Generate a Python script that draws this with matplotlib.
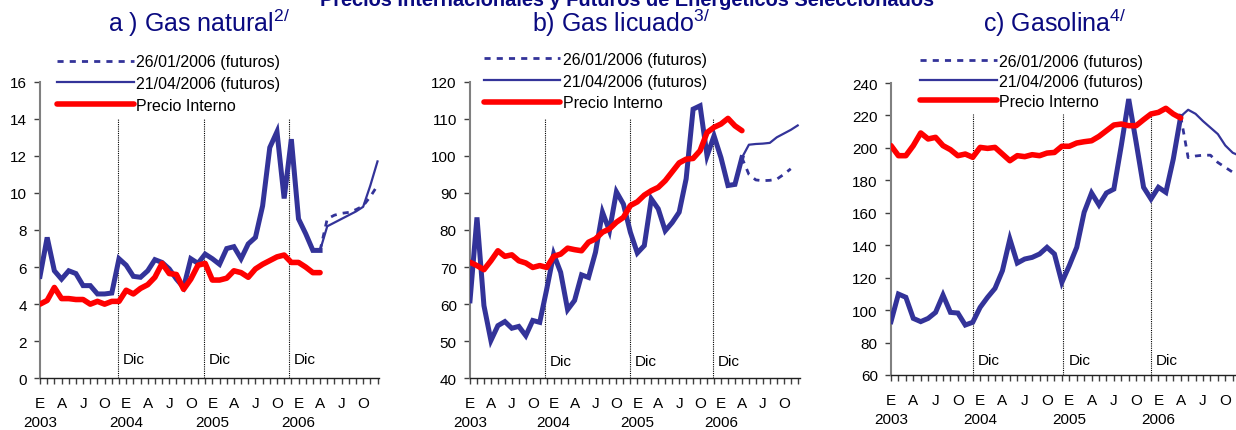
import numpy as np
import matplotlib
matplotlib.use("Agg")
import matplotlib.pyplot as plt

plt.rcParams['font.family'] = ['Liberation Sans', 'DejaVu Sans']
plt.rcParams['mathtext.fontset'] = 'custom'
plt.rcParams['mathtext.rm'] = 'Liberation Sans'
plt.rcParams['mathtext.it'] = 'Liberation Sans:italic'
plt.rcParams['mathtext.bf'] = 'Liberation Sans:bold'

# ---------------- DATA ----------------
months = np.arange(48)          # Jan 2003 .. Dec 2006
hist_months = np.arange(40)     # Jan 2003 .. Apr 2006
fut_months = np.arange(39, 48)  # Apr 2006 .. Dec 2006

month_letters = ['E', 'A', 'J', 'O']
years = ['2003', '2004', '2005', '2006']

legend_labels = ['26/01/2006 (futuros)', '21/04/2006 (futuros)', 'Precio Interno']

# a) Gas natural
gn_spot = [5.5, 7.6, 5.8, 5.35, 5.8, 5.65, 5.0, 5.0, 4.55, 4.55, 4.6, 6.45,
           6.1, 5.5, 5.45, 5.8, 6.4, 6.25, 5.9, 5.35, 4.9, 6.45, 6.2, 6.7,
           6.45, 6.15, 7.0, 7.1, 6.45, 7.25, 7.6, 9.3, 12.45, 13.3, 9.7, 12.9,
           8.6, 7.8, 6.9, 6.9]
gn_int = [4.0, 4.2, 4.9, 4.3, 4.3, 4.25, 4.25, 4.0, 4.15, 4.0, 4.15, 4.15,
          4.75, 4.55, 4.85, 5.05, 5.45, 6.2, 5.65, 5.6, 4.8, 5.35, 6.1, 6.2,
          5.3, 5.3, 5.4, 5.8, 5.7, 5.45, 5.9, 6.15, 6.35, 6.55, 6.65, 6.25,
          6.25, 6.0, 5.7, 5.7]
gn_fut_abr = [6.9, 8.2, 8.4, 8.6, 8.8, 9.0, 9.25, 10.4, 11.7]
gn_fut_ene = [6.9, 8.6, 8.8, 8.9, 8.95, 9.1, 9.3, 9.8, 10.4]

# b) Gas licuado
gl_spot = [60.9, 83.4, 59.6, 50.2, 54.2, 55.3, 53.5, 54.0, 51.5, 55.6, 55.1, 64.0,
           73.5, 68.6, 58.5, 61.0, 67.9, 67.2, 74.0, 84.8, 79.8, 90.3, 87.0, 79.4,
           73.8, 75.8, 88.4, 85.7, 79.8, 82.0, 84.8, 93.8, 112.6, 113.5, 100.0, 105.4,
           99.5, 92.0, 92.3, 99.5]
gl_int = [71.3, 70.4, 69.3, 71.7, 74.4, 72.9, 73.3, 71.7, 71.1, 69.9, 70.4, 69.9,
          72.9, 73.5, 75.1, 74.7, 74.4, 76.7, 77.6, 79.4, 80.3, 82.1, 83.4, 86.6,
          87.6, 89.4, 90.6, 91.5, 93.3, 95.7, 98.1, 99.1, 99.3, 101.4, 106.3, 107.7,
          108.6, 110.1, 108.1, 106.8]
gl_fut_abr = [99.5, 103.0, 103.2, 103.3, 103.5, 105.0, 106.0, 107.0, 108.2]
gl_fut_ene = [99.5, 95.0, 93.5, 93.3, 93.4, 93.7, 95.0, 96.5]

# c) Gasolina
gs_spot = [92.9, 109.9, 107.9, 94.9, 92.9, 94.9, 98.6, 109.3, 98.6, 98.2, 90.8, 92.5,
           101.7, 107.9, 113.4, 124.3, 143.8, 129.0, 131.5, 132.5, 134.6, 138.7, 134.6, 117.1,
           127.4, 138.7, 160.3, 172.2, 164.8, 172.2, 174.6, 201.4, 230.1, 203.4, 175.7, 168.5,
           175.7, 172.6, 193.1, 219.4]
gs_int = [201.4, 195.2, 195.2, 201.4, 209.2, 205.5, 206.5, 201.4, 198.9, 195.2, 196.2, 194.2,
          200.3, 199.7, 200.3, 196.2, 192.1, 195.2, 194.6, 195.8, 195.2, 196.8, 197.2, 201.0,
          201.0, 203.0, 203.8, 204.4, 207.1, 210.6, 214.1, 214.7, 213.7, 213.7, 217.4, 220.9,
          221.9, 224.4, 220.9, 218.4]
gs_fut_abr = [219.4, 223.5, 221.0, 216.5, 212.5, 208.5, 201.5, 197.0, 195.0]
gs_fut_ene = [219.4, 194.0, 195.0, 195.5, 195.5, 191.0, 188.0, 185.0, 183.0]

# ---------------- STYLE ----------------
BLUE = '#333399'
RED = '#FF0000'
NAVY = '#0A0A80'
W, H = 1236, 431

fig = plt.figure(figsize=(W / 100, H / 100), dpi=100)

panels = [
    dict(rect=[40, 51.7, 339.3, 296.6], xlim=(0, 47.25), ylim=(0, 16), step=2,
         spot=gn_spot, inter=gn_int, fabr=gn_fut_abr, fene=gn_fut_ene,
         vlines=[10.8, 22.8, 34.7], vtop=14.0, dic_y=0.8,
         leg=(0.051, 1.092), lsp=0.41,
         title=r'a ) Gas natural$^{\mathrm{2/}}$', tx=108),
    dict(rect=[470, 51.7, 330, 296.6], xlim=(0, 47.33), ylim=(40, 120), step=10,
         spot=gl_spot, inter=gl_int, fabr=gl_fut_abr, fene=gl_fut_ene,
         vlines=[10.7, 22.95, 34.9], vtop=110.0, dic_y=43.5,
         leg=(0.041, 1.10), lsp=0.41,
         title=r'b) Gas licuado$^{\mathrm{3/}}$', tx=532),
    dict(rect=[891, 55, 351, 292], xlim=(0, 47.25), ylim=(60, 240), step=20,
         spot=gs_spot, inter=gs_int, fabr=gs_fut_abr, fene=gs_fut_ene,
         vlines=[11.0, 23.2, 34.95], vtop=221.0, dic_y=67.0,
         leg=(0.083, 1.10), lsp=0.32,
         title=r'c) Gasolina$^{\mathrm{4/}}$', tx=983),
]

xt_labels = []
for i in months:
    if i % 3 == 0:
        lab = month_letters[(i % 12) // 3]
        if i % 12 == 0:
            lab = lab + '\n' + years[i // 12]
        xt_labels.append(lab)
    else:
        xt_labels.append('')

for p in panels:
    l, b, w, h = p['rect']
    ax = fig.add_axes([l / W, b / H, w / W, h / H])
    ax.set_facecolor('none')

    ax.plot(hist_months, p['spot'], color=BLUE, lw=3.6, solid_joinstyle='miter',
            zorder=3)
    l_ene, = ax.plot(fut_months[:len(p['fene'])], p['fene'], color=BLUE, lw=2.0,
                     dashes=(2.2, 2.2), zorder=2)
    l_abr, = ax.plot(fut_months[:len(p['fabr'])], p['fabr'], color=BLUE, lw=1.6,
                     zorder=2)
    l_int, = ax.plot(hist_months, p['inter'], color=RED, lw=4.0,
                     solid_capstyle='round', zorder=4)

    for k, xv in enumerate(p['vlines']):
        ax.plot([xv, xv], [p['ylim'][0], p['vtop']], color='black', lw=0.8,
                linestyle=(0, (1, 1)), zorder=1)
        ax.text(xv + 0.7, p['dic_y'], 'Dic', fontsize=11, ha='left',
                va='baseline', color='black')

    ax.set_xlim(*p['xlim'])
    ax.set_ylim(*p['ylim'])
    ax.set_yticks(np.arange(p['ylim'][0], p['ylim'][1] + 0.1, p['step']))
    ax.set_yticklabels([f'{int(v)}' for v in ax.get_yticks()], fontsize=11)
    ax.set_xticks(months)
    ax.set_xticklabels(xt_labels, fontsize=11)
    for t in ax.get_xticklabels():
        t.set_linespacing(1.45)

    for s in ['top', 'right']:
        ax.spines[s].set_visible(False)
    ax.spines['left'].set_color('#808080')
    ax.spines['left'].set_linewidth(1.5)
    ax.spines['bottom'].set_color('#202020')
    ax.spines['bottom'].set_linewidth(1.0)
    ax.tick_params(axis='y', direction='out', length=4, width=1, color='#404040',
                   pad=5.5)
    ax.tick_params(axis='x', direction='out', length=4, width=1, color='#404040',
                   pad=9)

    leg = ax.legend([l_ene, l_abr, l_int], legend_labels, loc='upper left',
                    bbox_to_anchor=p['leg'], frameon=False, fontsize=11.5,
                    handlelength=4.8, handletextpad=0.15, labelspacing=p['lsp'],
                    borderpad=0, borderaxespad=0)
    leg.set_zorder(10)

    fig.text(p['tx'] / W, 1 - 32 / H, p['title'], fontsize=18, color=NAVY,
             ha='left', va='baseline')

fig.text(0.507, 1 - 6 / H,
         'Precios Internacionales y Futuros de Energéticos Seleccionados',
         fontsize=14.4, fontweight='bold', color=NAVY, ha='center', va='baseline')

fig.savefig('out.png', dpi=100)
